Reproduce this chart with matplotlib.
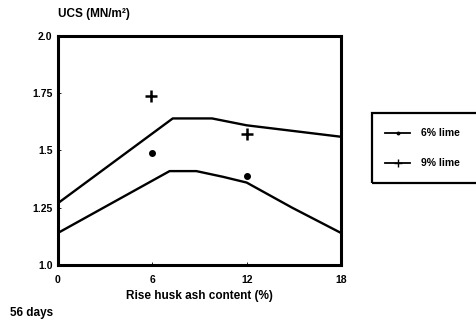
import matplotlib
matplotlib.use("Agg")
import matplotlib.pyplot as plt
from matplotlib.lines import Line2D
from matplotlib.patches import Rectangle

# UCS vs rice husk ash content, 56 days
upper_x = [0, 7.3, 9.8, 12, 18]
upper_y = [1.27, 1.64, 1.64, 1.61, 1.56]
lower_x = [0, 7.1, 8.8, 10.5, 12, 14.9, 18]
lower_y = [1.14, 1.41, 1.41, 1.385, 1.36, 1.25, 1.14]

lime6_x = [6, 12]
lime6_y = [1.49, 1.39]
lime9_x = [5.9, 12]
lime9_y = [1.74, 1.57]

xticks = [0, 6, 12, 18]
yticks = [1.0, 1.25, 1.5, 1.75, 2.0]
ytick_labels = ["1.0", "1.25", "1.5", "1.75", "2.0"]

plt.rcParams["font.family"] = ["Liberation Sans", "DejaVu Sans"]
plt.rcParams["font.weight"] = "bold"

fig = plt.figure(figsize=(4.76, 3.2), dpi=100)
ax = fig.add_axes([0.1218, 0.1719, 0.5945, 0.7156])

ax.plot(upper_x, upper_y, color="black", lw=1.7)
ax.plot(lower_x, lower_y, color="black", lw=1.7)
ax.plot(lime6_x, lime6_y, ls="none", marker="o", ms=4, color="black")
ax.plot(lime9_x, lime9_y, ls="none", marker="+", ms=9, mew=1.8, color="black")

ax.set_xlim(0, 18)
ax.set_ylim(1.0, 2.0)
ax.set_xticks(xticks)
ax.set_yticks(yticks)
ax.set_yticklabels(ytick_labels)
ax.tick_params(direction="in", length=2, width=0.6, labelsize=7.5)
ax.tick_params(axis="x", pad=7)
ax.tick_params(axis="y", pad=4)
for lbl in ax.get_xticklabels() + ax.get_yticklabels():
    lbl.set_fontweight("bold")
for s in ax.spines.values():
    s.set_linewidth(2.2)

ax.set_xlabel("Rise husk ash content (%)", fontsize=8.5, fontweight="bold",
              labelpad=4)
fig.text(0.122, 0.955, "UCS (MN/m²)", fontsize=8.5,
         fontweight="bold", va="center", ha="left")
fig.text(10 / 476, 1 - 313 / 320, "56 days", fontsize=8.5, fontweight="bold",
         va="center", ha="left")

# legend box, runs off the right edge like the original
box = Rectangle((372 / 476, 1 - 183 / 320), 0.3, 70 / 320, transform=fig.transFigure,
                fill=False, ec="black", lw=1.6, clip_on=False)
fig.patches.append(box)
handles = [
    Line2D([], [], color="black", lw=1.3, marker="o", ms=1.8),
    Line2D([], [], color="black", lw=1.3, marker="+", ms=6, mew=1),
]
fig.legend(handles, ["6% lime", "9% lime"], loc="upper left",
           bbox_to_anchor=(376 / 476, 1 - 119 / 320), frameon=False,
           handlelength=2.4, labelspacing=1.9, handletextpad=1.0,
           prop={"weight": "bold", "size": 7.5})

fig.savefig("out.png", dpi=100)
